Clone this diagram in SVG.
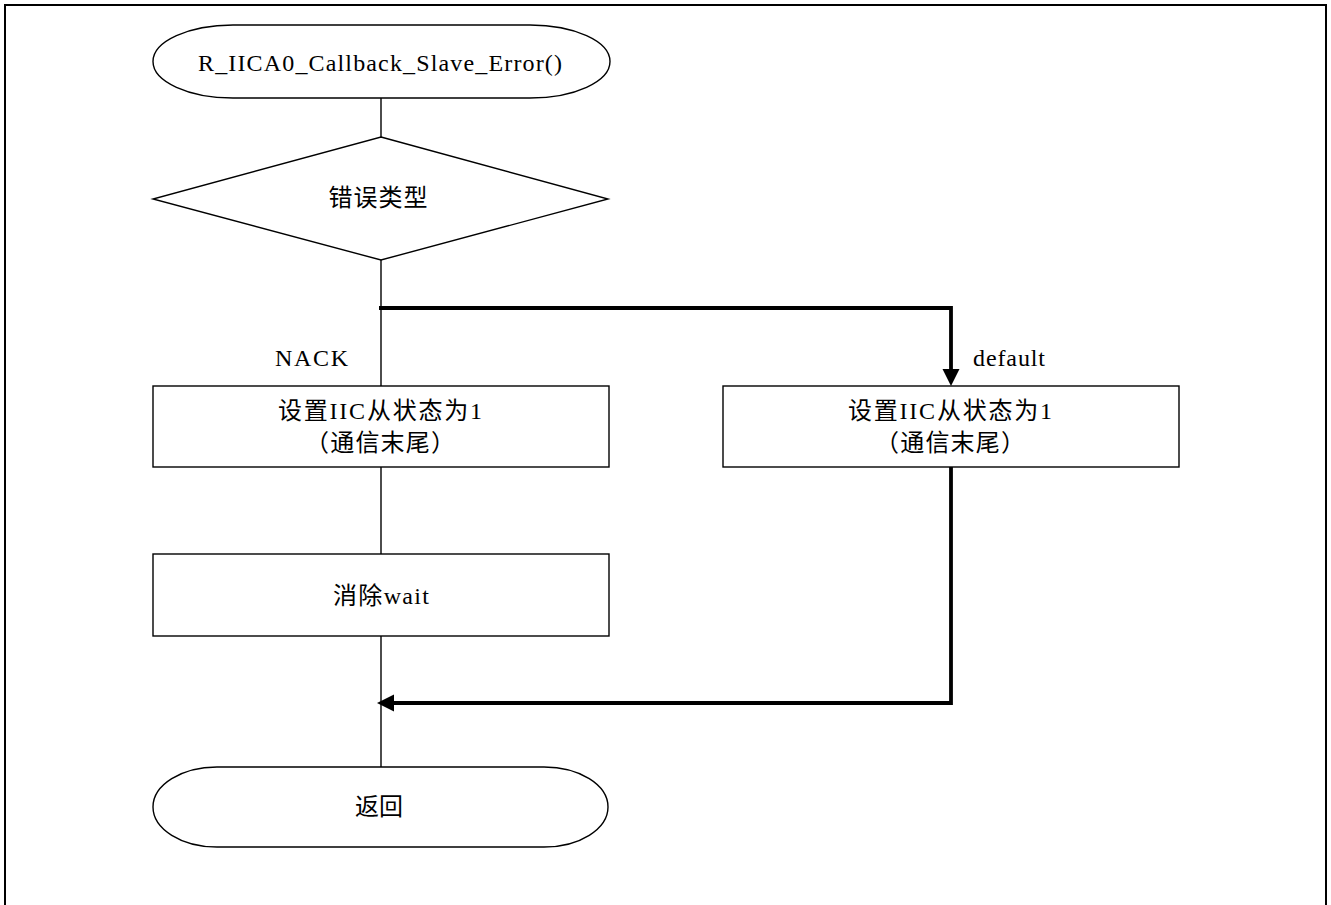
<svg xmlns="http://www.w3.org/2000/svg" width="1331" height="905" viewBox="0 0 1331 905">
<style>
.shape{fill:#fff;stroke:#000;stroke-width:1.4}
.thin{fill:none;stroke:#000;stroke-width:1.4}
.thick{fill:none;stroke:#000;stroke-width:3.8}
text{font-family:"Liberation Serif","Noto Sans CJK SC",serif;font-size:24px;fill:#000}
.c{text-anchor:middle}
</style>
<defs>
<marker id="arr" markerUnits="userSpaceOnUse" markerWidth="18" markerHeight="18" refX="0" refY="8.5" orient="auto">
<path d="M0,0 L17,8.5 L0,17 z" fill="#000"/>
</marker>
</defs>
<rect x="5" y="5" width="1321" height="930" fill="none" stroke="#000" stroke-width="2"/>
<g id="connectors">
<line class="thin" x1="381" y1="98" x2="381" y2="137"/>
<line class="thin" x1="381" y1="260" x2="381" y2="386"/>
<line class="thin" x1="381" y1="467" x2="381" y2="554"/>
<line class="thin" x1="381" y1="636" x2="381" y2="767"/>
<path class="thick" d="M379,308 H951 V369" marker-end="url(#arr)"/>
<path class="thick" d="M951,467 V703 H394" marker-end="url(#arr)"/>
<text x="275" y="366" textLength="73" lengthAdjust="spacing">NACK</text>
<text x="973" y="366" textLength="72" lengthAdjust="spacing">default</text>
</g>
<g id="start">
<path class="shape" d="M233,25 H530 A80,36.5 0 0 1 530,98 H233 A80,36.5 0 0 1 233,25 Z"/>
<text class="c" x="380" y="71" textLength="364" lengthAdjust="spacing">R_IICA0_Callback_Slave_Error()</text>
</g>
<g id="decision">
<polygon class="shape" points="381,137 608,199 381,260 153,199"/>
<text class="c" x="378" y="206" textLength="99" lengthAdjust="spacing">错误类型</text>
</g>
<g id="nack-box">
<rect class="shape" x="153" y="386" width="456" height="81"/>
<text class="c" x="380" y="419" textLength="204" lengthAdjust="spacing">设置IIC从状态为1</text>
<text class="c" x="380" y="451" textLength="150" lengthAdjust="spacing">（通信末尾）</text>
</g>
<g id="default-box">
<rect class="shape" x="723" y="386" width="456" height="81"/>
<text class="c" x="950" y="419" textLength="204" lengthAdjust="spacing">设置IIC从状态为1</text>
<text class="c" x="950" y="451" textLength="150" lengthAdjust="spacing">（通信末尾）</text>
</g>
<g id="wait-box">
<rect class="shape" x="153" y="554" width="456" height="82"/>
<text class="c" x="381" y="604" textLength="96" lengthAdjust="spacing">消除wait</text>
</g>
<g id="end">
<path class="shape" d="M217,767 H544 A64,40 0 0 1 544,847 H217 A64,40 0 0 1 217,767 Z"/>
<text class="c" x="379" y="815" textLength="48" lengthAdjust="spacing">返回</text>
</g>
</svg>
